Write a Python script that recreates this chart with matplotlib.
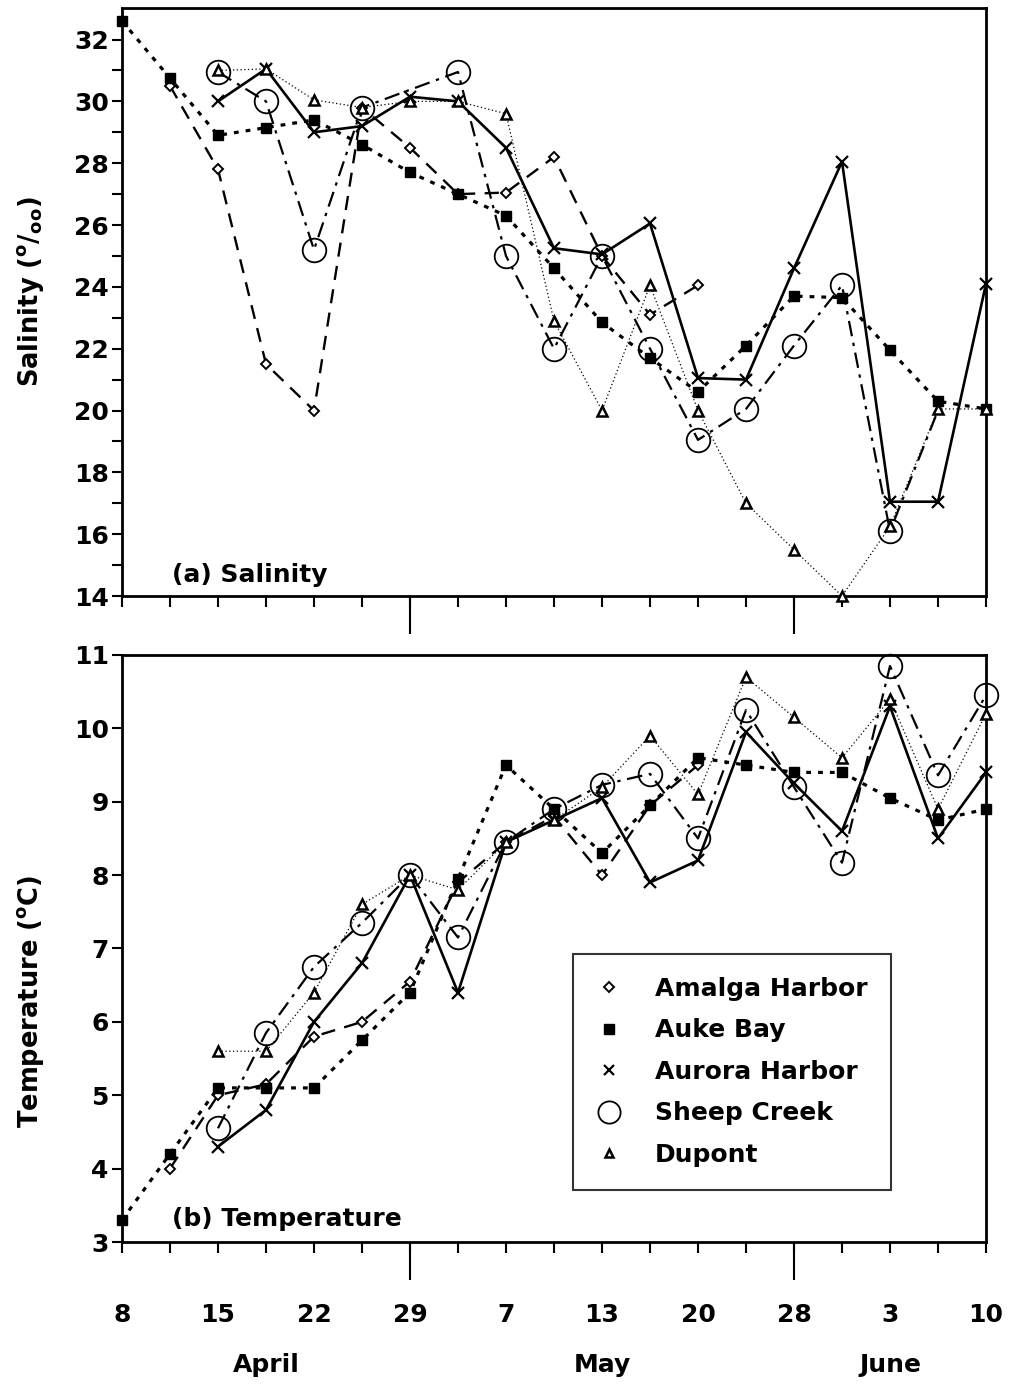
import matplotlib
matplotlib.use("Agg")
import matplotlib.pyplot as plt
import numpy as np

plt.rcParams['font.family'] = ['DejaVu Sans']
plt.rcParams['font.weight'] = 'bold'
plt.rcParams['mathtext.fontset'] = 'custom'
plt.rcParams['mathtext.rm'] = 'DejaVu Sans:bold'
plt.rcParams['mathtext.it'] = 'DejaVu Sans:bold'
plt.rcParams['mathtext.bf'] = 'DejaVu Sans:bold'

# ---- x axis (sampling slots) ----
date_labels = ['8', '15', '22', '29', '7', '13', '20', '28', '3', '10']
months = ['April', 'May', 'June']
month_pos = [3, 10, 16]
month_breaks = [6, 14]

# ---- Salinity ----
sal_amalga_x = [1, 2, 3, 4, 5, 6, 7, 8, 9, 10, 11, 12]
sal_amalga = [30.5, 27.8, 21.5, 20.0, 29.8, 28.5, 27.0, 27.05, 28.2, 25.0, 23.1, 24.05]
sal_auke_x = list(range(0, 19))
sal_auke = [32.6, 30.75, 28.9, 29.15, 29.4, 28.6, 27.7, 27.0, 26.3, 24.6, 22.85, 21.7,
            20.6, 22.1, 23.7, 23.65, 21.95, 20.3, 20.05]
sal_aurora_x = list(range(2, 19))
sal_aurora = [30.0, 31.05, 29.0, 29.2, 30.15, 30.0, 28.5, 25.25, 25.05, 26.05, 21.05,
              21.0, 24.6, 28.05, 17.05, 17.05, 24.1]
sal_sheep_x = [2, 3, 4, 5, 7, 8, 9, 10, 11, 12, 13, 14, 15, 16, 17]
sal_sheep = [30.95, 30.0, 25.2, 29.8, 30.95, 25.0, 22.0, 25.0, 22.0, 19.05, 20.05, 22.1,
             24.05, 16.1, 20.0]
sal_dupont_x = list(range(2, 19))
sal_dupont = [31.0, 31.05, 30.05, 29.8, 30.0, 30.0, 29.6, 22.9, 20.0, 24.05, 20.0, 17.0,
              15.5, 14.0, 16.25, 20.05, 20.05]

# ---- Temperature ----
tmp_amalga_x = [1, 2, 3, 4, 5, 6, 7, 8, 9, 10, 11, 12]
tmp_amalga = [4.0, 5.0, 5.15, 5.8, 6.0, 6.55, 7.9, 8.45, 8.8, 8.0, 8.95, 9.5]
tmp_auke_x = list(range(0, 19))
tmp_auke = [3.3, 4.2, 5.1, 5.1, 5.1, 5.75, 6.4, 7.95, 9.5, 8.9, 8.3, 8.95, 9.6, 9.5,
            9.4, 9.4, 9.05, 8.75, 8.9]
tmp_aurora_x = list(range(2, 19))
tmp_aurora = [4.3, 4.8, 6.0, 6.8, 8.0, 6.4, 8.45, 8.75, 9.05, 7.9, 8.2, 9.95, 9.25, 8.6,
              10.3, 8.5, 9.4]
tmp_sheep_x = list(range(2, 19))
tmp_sheep = [4.55, 5.85, 6.75, 7.35, 8.0, 7.15, 8.45, 8.9, 9.23, 9.38, 8.5, 10.25, 9.2,
             8.17, 10.85, 9.36, 10.45]
tmp_dupont_x = list(range(2, 19))
tmp_dupont = [5.6, 5.6, 6.4, 7.6, 8.0, 7.8, 8.45, 8.75, 9.2, 9.9, 9.1, 10.7, 10.15, 9.6,
              10.4, 8.9, 10.2]

station_names = ['Amalga Harbor', 'Auke Bay', 'Aurora Harbor', 'Sheep Creek', 'Dupont']

styles = {
    'Amalga Harbor': dict(color='black', lw=1.7, dashes=(6, 4), marker='D', ms=5.5,
                          mfc='white', mec='black', mew=1.4),
    'Auke Bay': dict(color='black', lw=2.3, dashes=(1.5, 2.2), marker='s', ms=7,
                     mfc='black', mec='black', mew=1),
    'Aurora Harbor': dict(color='black', lw=1.9, ls='-', marker='x', ms=9,
                          mec='black', mew=1.6),
    'Sheep Creek': dict(color='black', lw=1.6, dashes=(7, 3, 1.5, 3), marker='o', ms=17,
                        mfc='none', mec='black', mew=1.3),
    'Dupont': dict(color='black', lw=0.9, dashes=(1, 2), marker='^', ms=7,
                   mfc='white', mec='black', mew=1.8),
}

fig = plt.figure(figsize=(10.1, 13.85), dpi=100)
W, H = 1010, 1385
axL, axR = 122, 986
ax1 = fig.add_axes([axL / W, 1 - 596 / H, (axR - axL) / W, (596 - 8) / H])
ax2 = fig.add_axes([axL / W, 1 - 1242 / H, (axR - axL) / W, (1242 - 655) / H])

sal_data = [(sal_amalga_x, sal_amalga), (sal_auke_x, sal_auke), (sal_aurora_x, sal_aurora),
            (sal_sheep_x, sal_sheep), (sal_dupont_x, sal_dupont)]
tmp_data = [(tmp_amalga_x, tmp_amalga), (tmp_auke_x, tmp_auke), (tmp_aurora_x, tmp_aurora),
            (tmp_sheep_x, tmp_sheep), (tmp_dupont_x, tmp_dupont)]

zorders = {'Amalga Harbor': 4, 'Auke Bay': 5, 'Aurora Harbor': 6, 'Sheep Creek': 3, 'Dupont': 7}

for name, (x, y) in zip(station_names, sal_data):
    kw = dict(styles[name])
    if name == 'Sheep Creek':
        kw['markevery'] = list(range(len(x) - 1))
    ax1.plot(x, y, zorder=zorders[name], clip_on=False, **kw)

for name, (x, y) in zip(station_names, tmp_data):
    ax2.plot(x, y, zorder=zorders[name], clip_on=False, **styles[name])

fs = 18
for ax in (ax1, ax2):
    ax.set_xlim(0, 18)
    for s in ax.spines.values():
        s.set_linewidth(2.0)
    ax.set_xticks(range(0, 19, 2))
    ax.set_xticks(range(1, 19, 2), minor=True)
    ax.tick_params(axis='x', which='both', direction='out', length=8, width=1.5)
    ax.tick_params(axis='y', which='both', direction='out', length=7.5, width=1.5,
                   labelsize=fs, pad=2)
    sec = ax.secondary_xaxis('bottom')
    sec.set_xticks(month_breaks)
    sec.tick_params(direction='out', length=27, width=1.5, labelbottom=False)
    sec.spines['bottom'].set_visible(False)

ax1.set_ylim(14, 33.02)
ax1.set_yticks(np.arange(14, 33, 2))
ax1.set_yticks(np.arange(15, 33, 2), minor=True)
ax1.tick_params(axis='x', labelbottom=False)

ax2.set_ylim(3, 11)
ax2.set_yticks(np.arange(3, 12, 1))
ax2.set_xticklabels(date_labels)
ax2.tick_params(axis='x', labelsize=fs, pad=36)

for m, p in zip(months, month_pos):
    ax2.text(p, -0.21, m, transform=ax2.get_xaxis_transform(), ha='center', va='center',
             fontsize=fs, fontweight='bold')

ax1.set_ylabel(r'Salinity ($^{o}/_{oo}$)', fontsize=18.5, fontweight='bold')
ax1.yaxis.set_label_coords(-0.088, 0.517)
ax2.set_ylabel(r'Temperature ($^{o}$C)', fontsize=18.5, fontweight='bold')
ax2.yaxis.set_label_coords(-0.088, 0.41)

ax1.text(0.058, 0.024, '(a) Salinity', transform=ax1.transAxes, fontsize=fs,
         fontweight='bold', ha='left', va='baseline')
ax2.text(0.058, 0.027, '(b) Temperature', transform=ax2.transAxes, fontsize=fs,
         fontweight='bold', ha='left', va='baseline')

leg_handles = []
leg_ms = {'D': 5, 's': 6.5, 'x': 7.5, 'o': 16, '^': 6}
for name in station_names:
    st = styles[name]
    lh = plt.Line2D([], [], ls='none', marker=st['marker'], ms=leg_ms[st['marker']],
                    mfc=st.get('mfc', 'black'), mec='black', mew=st['mew'])
    leg_handles.append(lh)
leg = ax2.legend(leg_handles, station_names, loc='lower left',
                 bbox_to_anchor=(0.522, 0.0886), frameon=True, fancybox=False,
                 edgecolor='black', fontsize=fs, handlelength=1.0, handletextpad=1.36,
                 labelspacing=0.70, borderpad=0.92, borderaxespad=0)
leg.get_frame().set_linewidth(1.5)
for t in leg.get_texts():
    t.set_fontweight('bold')

fig.savefig('out.png', dpi=100)
